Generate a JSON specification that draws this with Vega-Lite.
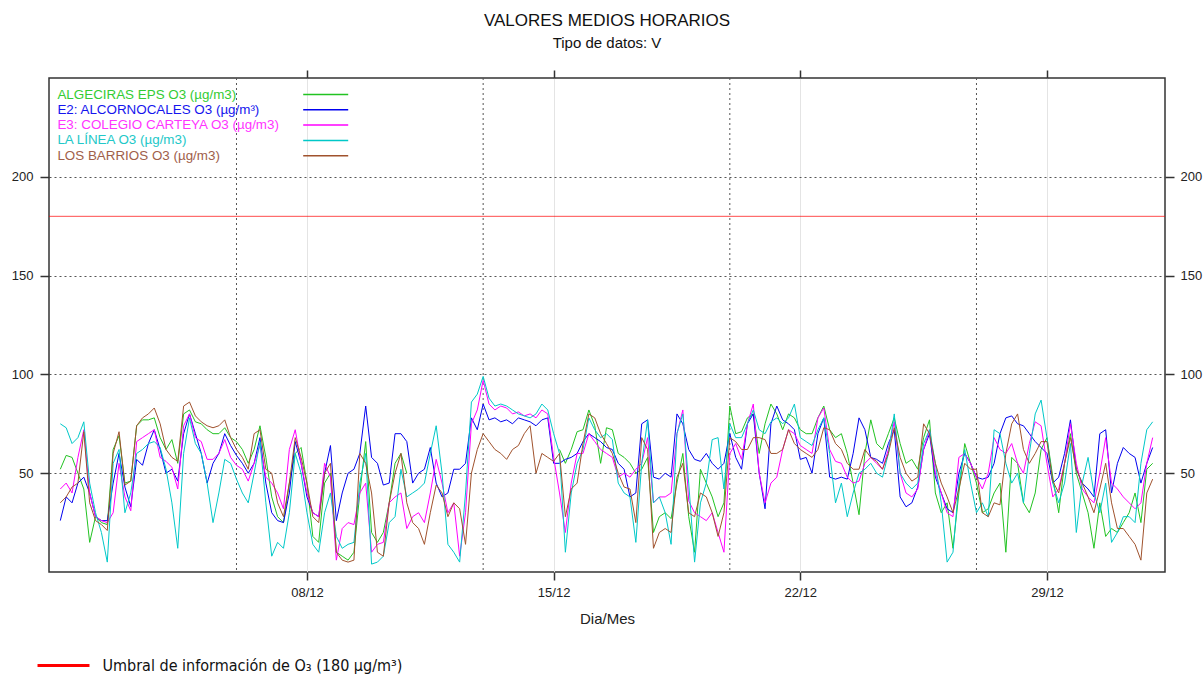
{
  "$schema": "https://vega.github.io/schema/vega-lite/v6.json",
  "width": 1116,
  "height": 494,
  "autosize": {"type": "none"},
  "padding": {"left": 49, "top": 78, "right": 39, "bottom": 107},
  "background": "white",
  "title": {
    "text": "VALORES MEDIOS HORARIOS",
    "subtitle": "Tipo de datos: V",
    "anchor": "middle",
    "font": "Liberation Sans",
    "fontSize": 17,
    "fontWeight": "normal",
    "color": "#111111",
    "subtitleFont": "Liberation Sans",
    "subtitleFontSize": 15,
    "subtitleColor": "#111111",
    "subtitlePadding": 6,
    "offset": 17
  },
  "config": {
    "font": "Liberation Sans",
    "view": {"stroke": "#333333", "strokeWidth": 1.5},
    "axis": {
      "labelFont": "Liberation Sans",
      "labelFontSize": 13,
      "labelColor": "#222222",
      "tickColor": "#333333",
      "tickWidth": 1.5,
      "domain": false,
      "titleFont": "Liberation Sans",
      "titleFontWeight": "normal",
      "titleFontSize": 15,
      "titleColor": "#222222"
    }
  },
  "resolve": {
    "scale": {"color": "independent"},
    "axis": {"x": "independent", "y": "independent"}
  },
  "layer": [
    {
      "data": {"values": [
        {"d": "2023-12-06T00:00"},
        {"d": "2023-12-13T00:00"},
        {"d": "2023-12-20T00:00"},
        {"d": "2023-12-27T00:00"}
      ]},
      "mark": {"type": "rule", "color": "#555555", "strokeDash": [2, 3], "strokeWidth": 1},
      "encoding": {
        "x": {
          "field": "d",
          "type": "temporal",
          "scale": {"type": "time", "domain": [
            {"year": 2023, "month": 11, "date": 30, "hours": 16, "minutes": 18},
            {"year": 2024, "month": 1, "date": 1, "hours": 8, "minutes": 24}
          ]},
          "axis": {
            "orient": "top",
            "values": [
              {"year": 2023, "month": 12, "date": 8},
              {"year": 2023, "month": 12, "date": 15},
              {"year": 2023, "month": 12, "date": 22},
              {"year": 2023, "month": 12, "date": 29}
            ],
            "labels": false,
            "grid": false,
            "ticks": true,
            "tickSize": 8,
            "title": null
          }
        }
      }
    },
    {
      "data": {"values": [{}]},
      "mark": {"type": "rule", "strokeWidth": 1, "opacity": 0.7},
      "encoding": {
        "y": {
          "datum": 180,
          "type": "quantitative",
          "scale": {"domain": [0, 250], "nice": false},
          "axis": {
            "orient": "right",
            "values": [50, 100, 150, 200],
            "grid": false,
            "tickSize": 9,
            "labelPadding": 6,
            "title": null
          }
        },
        "color": {
          "datum": "Umbral de información de O₃ (180 µg/m³)",
          "type": "nominal",
          "scale": {"range": ["#ff0000"]},
          "legend": {
            "orient": "none",
            "legendX": -9,
            "legendY": 579.5,
            "title": null,
            "padding": 0,
            "symbolType": "M-6,0H6",
            "symbolSize": 75,
            "symbolStrokeWidth": 3,
            "symbolOpacity": 1,
            "symbolOffset": 15.5,
            "labelOffset": 31,
            "labelFont": "Liberation Sans Narrow, DejaVu Sans Condensed, Liberation Sans",
            "labelFontSize": 16,
            "labelColor": "#111111",
            "labelLimit": 0
          }
        }
      }
    },
    {
      "data": {"values": [
        {"t":"2023-12-01T00:00","g":52,"b":26,"m":42,"c":75,"r":35},
        {"t":"2023-12-01T04:00","g":59,"b":38,"m":45,"c":73,"r":38},
        {"t":"2023-12-01T08:00","g":58,"b":35,"m":40,"c":65,"r":43},
        {"t":"2023-12-01T12:00","g":50,"b":45,"m":58,"c":68,"r":45},
        {"t":"2023-12-01T16:00","g":42,"b":48,"m":72,"c":76,"r":71},
        {"t":"2023-12-01T20:00","g":15,"b":40,"m":40,"c":45,"r":35},
        {"t":"2023-12-02T00:00","g":28,"b":28,"m":28,"c":30,"r":26},
        {"t":"2023-12-02T04:00","g":25,"b":26,"m":26,"c":20,"r":24},
        {"t":"2023-12-02T08:00","g":24,"b":26,"m":25,"c":5,"r":21},
        {"t":"2023-12-02T12:00","g":62,"b":45,"m":30,"c":55,"r":60},
        {"t":"2023-12-02T16:00","g":69,"b":60,"m":55,"c":62,"r":71},
        {"t":"2023-12-02T20:00","g":45,"b":43,"m":38,"c":30,"r":44},
        {"t":"2023-12-03T00:00","g":46,"b":33,"m":31,"c":40,"r":46},
        {"t":"2023-12-03T04:00","g":74,"b":57,"m":66,"c":60,"r":74},
        {"t":"2023-12-03T08:00","g":77,"b":54,"m":68,"c":62,"r":78},
        {"t":"2023-12-03T12:00","g":77,"b":65,"m":70,"c":65,"r":80},
        {"t":"2023-12-03T16:00","g":78,"b":72,"m":72,"c":66,"r":83},
        {"t":"2023-12-03T20:00","g":68,"b":62,"m":58,"c":63,"r":75},
        {"t":"2023-12-04T00:00","g":62,"b":50,"m":56,"c":52,"r":62},
        {"t":"2023-12-04T04:00","g":67,"b":52,"m":53,"c":35,"r":58},
        {"t":"2023-12-04T08:00","g":55,"b":46,"m":42,"c":12,"r":56},
        {"t":"2023-12-04T12:00","g":80,"b":70,"m":74,"c":60,"r":84},
        {"t":"2023-12-04T16:00","g":82,"b":80,"m":80,"c":78,"r":86},
        {"t":"2023-12-04T20:00","g":76,"b":70,"m":68,"c":65,"r":79},
        {"t":"2023-12-05T00:00","g":75,"b":60,"m":66,"c":60,"r":76},
        {"t":"2023-12-05T04:00","g":72,"b":45,"m":57,"c":45,"r":74},
        {"t":"2023-12-05T08:00","g":70,"b":55,"m":57,"c":25,"r":73},
        {"t":"2023-12-05T12:00","g":70,"b":60,"m":60,"c":40,"r":74},
        {"t":"2023-12-05T16:00","g":73,"b":70,"m":67,"c":57,"r":77},
        {"t":"2023-12-05T20:00","g":68,"b":64,"m":58,"c":55,"r":68},
        {"t":"2023-12-06T00:00","g":66,"b":59,"m":54,"c":47,"r":62},
        {"t":"2023-12-06T04:00","g":62,"b":55,"m":52,"c":40,"r":58},
        {"t":"2023-12-06T08:00","g":55,"b":50,"m":46,"c":35,"r":52},
        {"t":"2023-12-06T12:00","g":62,"b":55,"m":55,"c":50,"r":70},
        {"t":"2023-12-06T16:00","g":74,"b":68,"m":64,"c":66,"r":72},
        {"t":"2023-12-06T20:00","g":58,"b":45,"m":48,"c":35,"r":52},
        {"t":"2023-12-07T00:00","g":38,"b":30,"m":45,"c":8,"r":50},
        {"t":"2023-12-07T04:00","g":28,"b":26,"m":40,"c":15,"r":35},
        {"t":"2023-12-07T08:00","g":25,"b":25,"m":32,"c":12,"r":28},
        {"t":"2023-12-07T12:00","g":45,"b":40,"m":62,"c":30,"r":45},
        {"t":"2023-12-07T16:00","g":60,"b":66,"m":72,"c":60,"r":68},
        {"t":"2023-12-07T20:00","g":63,"b":55,"m":55,"c":50,"r":58},
        {"t":"2023-12-08T00:00","g":45,"b":38,"m":40,"c":30,"r":45},
        {"t":"2023-12-08T04:00","g":18,"b":30,"m":30,"c":14,"r":28},
        {"t":"2023-12-08T08:00","g":15,"b":28,"m":28,"c":10,"r":25},
        {"t":"2023-12-08T12:00","g":45,"b":50,"m":55,"c":30,"r":50},
        {"t":"2023-12-08T16:00","g":50,"b":64,"m":48,"c":40,"r":55},
        {"t":"2023-12-08T20:00","g":10,"b":26,"m":6,"c":18,"r":10},
        {"t":"2023-12-09T00:00","g":8,"b":40,"m":22,"c":12,"r":6},
        {"t":"2023-12-09T04:00","g":6,"b":50,"m":25,"c":14,"r":5},
        {"t":"2023-12-09T08:00","g":10,"b":52,"m":24,"c":15,"r":6},
        {"t":"2023-12-09T12:00","g":40,"b":60,"m":40,"c":45,"r":60},
        {"t":"2023-12-09T16:00","g":66,"b":84,"m":45,"c":60,"r":55},
        {"t":"2023-12-09T20:00","g":20,"b":58,"m":10,"c":4,"r":40},
        {"t":"2023-12-10T00:00","g":15,"b":55,"m":14,"c":5,"r":10},
        {"t":"2023-12-10T04:00","g":20,"b":44,"m":15,"c":8,"r":8},
        {"t":"2023-12-10T08:00","g":35,"b":45,"m":35,"c":25,"r":35},
        {"t":"2023-12-10T12:00","g":55,"b":70,"m":38,"c":28,"r":50},
        {"t":"2023-12-10T16:00","g":60,"b":70,"m":40,"c":52,"r":60},
        {"t":"2023-12-10T20:00","g":50,"b":66,"m":22,"c":38,"r":35},
        {"t":"2023-12-11T00:00","g":null,"b":45,"m":28,"c":40,"r":25},
        {"t":"2023-12-11T04:00","g":null,"b":50,"m":30,"c":42,"r":22},
        {"t":"2023-12-11T08:00","g":null,"b":52,"m":25,"c":45,"r":14},
        {"t":"2023-12-11T12:00","g":null,"b":63,"m":40,"c":60,"r":30},
        {"t":"2023-12-11T16:00","g":null,"b":45,"m":57,"c":74,"r":44},
        {"t":"2023-12-11T20:00","g":null,"b":38,"m":45,"c":50,"r":40},
        {"t":"2023-12-12T00:00","g":null,"b":40,"m":30,"c":14,"r":28},
        {"t":"2023-12-12T04:00","g":null,"b":52,"m":35,"c":10,"r":35},
        {"t":"2023-12-12T08:00","g":null,"b":52,"m":8,"c":5,"r":32},
        {"t":"2023-12-12T12:00","g":null,"b":55,"m":30,"c":40,"r":14},
        {"t":"2023-12-12T16:00","g":null,"b":78,"m":75,"c":86,"r":50},
        {"t":"2023-12-12T20:00","g":null,"b":72,"m":82,"c":90,"r":62},
        {"t":"2023-12-13T00:00","g":null,"b":85,"m":97,"c":99,"r":70},
        {"t":"2023-12-13T04:00","g":null,"b":77,"m":85,"c":88,"r":66},
        {"t":"2023-12-13T08:00","g":null,"b":78,"m":82,"c":84,"r":62},
        {"t":"2023-12-13T12:00","g":null,"b":76,"m":84,"c":85,"r":60},
        {"t":"2023-12-13T16:00","g":null,"b":77,"m":83,"c":84,"r":57},
        {"t":"2023-12-13T20:00","g":null,"b":75,"m":80,"c":82,"r":62},
        {"t":"2023-12-14T00:00","g":null,"b":78,"m":81,"c":80,"r":64},
        {"t":"2023-12-14T04:00","g":null,"b":77,"m":79,"c":79,"r":70},
        {"t":"2023-12-14T08:00","g":null,"b":76,"m":80,"c":78,"r":74},
        {"t":"2023-12-14T12:00","g":null,"b":74,"m":78,"c":80,"r":50},
        {"t":"2023-12-14T16:00","g":null,"b":77,"m":82,"c":85,"r":60},
        {"t":"2023-12-14T20:00","g":null,"b":78,"m":80,"c":82,"r":58},
        {"t":"2023-12-15T00:00","g":null,"b":55,"m":58,"c":70,"r":56},
        {"t":"2023-12-15T04:00","g":62,"b":55,"m":40,"c":60,"r":60},
        {"t":"2023-12-15T08:00","g":55,"b":57,"m":20,"c":10,"r":28},
        {"t":"2023-12-15T12:00","g":62,"b":58,"m":45,"c":40,"r":42},
        {"t":"2023-12-15T16:00","g":71,"b":60,"m":60,"c":55,"r":45},
        {"t":"2023-12-15T20:00","g":72,"b":66,"m":60,"c":62,"r":65},
        {"t":"2023-12-16T00:00","g":82,"b":70,"m":70,"c":78,"r":80},
        {"t":"2023-12-16T04:00","g":74,"b":68,"m":66,"c":72,"r":78},
        {"t":"2023-12-16T08:00","g":55,"b":66,"m":62,"c":68,"r":70},
        {"t":"2023-12-16T12:00","g":73,"b":63,"m":60,"c":70,"r":65},
        {"t":"2023-12-16T16:00","g":72,"b":62,"m":58,"c":67,"r":60},
        {"t":"2023-12-16T20:00","g":60,"b":55,"m":48,"c":45,"r":50},
        {"t":"2023-12-17T00:00","g":58,"b":52,"m":50,"c":40,"r":43},
        {"t":"2023-12-17T04:00","g":55,"b":38,"m":48,"c":38,"r":42},
        {"t":"2023-12-17T08:00","g":50,"b":40,"m":52,"c":15,"r":25},
        {"t":"2023-12-17T12:00","g":52,"b":75,"m":55,"c":55,"r":68},
        {"t":"2023-12-17T16:00","g":58,"b":77,"m":68,"c":77,"r":62},
        {"t":"2023-12-17T20:00","g":20,"b":48,"m":35,"c":35,"r":12},
        {"t":"2023-12-18T00:00","g":28,"b":47,"m":38,"c":38,"r":20},
        {"t":"2023-12-18T04:00","g":30,"b":50,"m":38,"c":30,"r":22},
        {"t":"2023-12-18T08:00","g":27,"b":48,"m":40,"c":14,"r":20},
        {"t":"2023-12-18T12:00","g":45,"b":80,"m":70,"c":70,"r":48},
        {"t":"2023-12-18T16:00","g":60,"b":75,"m":82,"c":80,"r":55},
        {"t":"2023-12-18T20:00","g":28,"b":62,"m":36,"c":45,"r":30},
        {"t":"2023-12-19T00:00","g":10,"b":57,"m":30,"c":5,"r":28},
        {"t":"2023-12-19T04:00","g":52,"b":56,"m":28,"c":35,"r":40},
        {"t":"2023-12-19T08:00","g":45,"b":60,"m":26,"c":45,"r":38},
        {"t":"2023-12-19T12:00","g":38,"b":55,"m":30,"c":67,"r":30},
        {"t":"2023-12-19T16:00","g":28,"b":52,"m":20,"c":68,"r":18},
        {"t":"2023-12-19T20:00","g":35,"b":55,"m":10,"c":42,"r":30},
        {"t":"2023-12-20T00:00","g":84,"b":70,"m":60,"c":75,"r":68},
        {"t":"2023-12-20T04:00","g":70,"b":58,"m":65,"c":68,"r":66},
        {"t":"2023-12-20T08:00","g":71,"b":52,"m":57,"c":68,"r":62},
        {"t":"2023-12-20T12:00","g":78,"b":75,"m":75,"c":75,"r":62},
        {"t":"2023-12-20T16:00","g":80,"b":80,"m":85,"c":82,"r":68},
        {"t":"2023-12-20T20:00","g":60,"b":50,"m":50,"c":72,"r":68},
        {"t":"2023-12-21T00:00","g":75,"b":32,"m":35,"c":70,"r":67},
        {"t":"2023-12-21T04:00","g":85,"b":75,"m":45,"c":76,"r":60},
        {"t":"2023-12-21T08:00","g":80,"b":84,"m":48,"c":78,"r":60},
        {"t":"2023-12-21T12:00","g":72,"b":77,"m":62,"c":75,"r":62},
        {"t":"2023-12-21T16:00","g":80,"b":75,"m":72,"c":78,"r":72},
        {"t":"2023-12-21T20:00","g":78,"b":72,"m":70,"c":85,"r":65},
        {"t":"2023-12-22T00:00","g":72,"b":57,"m":64,"c":68,"r":62},
        {"t":"2023-12-22T04:00","g":70,"b":58,"m":62,"c":66,"r":60},
        {"t":"2023-12-22T08:00","g":70,"b":50,"m":60,"c":64,"r":58},
        {"t":"2023-12-22T12:00","g":78,"b":70,"m":78,"c":72,"r":62},
        {"t":"2023-12-22T16:00","g":84,"b":78,"m":83,"c":78,"r":73},
        {"t":"2023-12-22T20:00","g":72,"b":48,"m":62,"c":60,"r":72},
        {"t":"2023-12-23T00:00","g":68,"b":47,"m":56,"c":35,"r":65},
        {"t":"2023-12-23T04:00","g":70,"b":48,"m":55,"c":45,"r":62},
        {"t":"2023-12-23T08:00","g":60,"b":47,"m":48,"c":28,"r":55},
        {"t":"2023-12-23T12:00","g":45,"b":60,"m":45,"c":40,"r":52},
        {"t":"2023-12-23T16:00","g":29,"b":78,"m":46,"c":50,"r":52},
        {"t":"2023-12-23T20:00","g":60,"b":72,"m":55,"c":52,"r":62},
        {"t":"2023-12-24T00:00","g":77,"b":58,"m":58,"c":55,"r":58},
        {"t":"2023-12-24T04:00","g":65,"b":57,"m":55,"c":50,"r":56},
        {"t":"2023-12-24T08:00","g":62,"b":55,"m":52,"c":48,"r":52},
        {"t":"2023-12-24T12:00","g":70,"b":65,"m":62,"c":60,"r":60},
        {"t":"2023-12-24T16:00","g":78,"b":72,"m":76,"c":80,"r":73},
        {"t":"2023-12-24T20:00","g":65,"b":38,"m":50,"c":50,"r":58},
        {"t":"2023-12-25T00:00","g":55,"b":33,"m":40,"c":45,"r":50},
        {"t":"2023-12-25T04:00","g":57,"b":35,"m":38,"c":42,"r":46},
        {"t":"2023-12-25T08:00","g":52,"b":43,"m":42,"c":45,"r":48},
        {"t":"2023-12-25T12:00","g":68,"b":62,"m":62,"c":65,"r":75},
        {"t":"2023-12-25T16:00","g":77,"b":70,"m":72,"c":72,"r":70},
        {"t":"2023-12-25T20:00","g":40,"b":48,"m":50,"c":55,"r":55},
        {"t":"2023-12-26T00:00","g":30,"b":40,"m":40,"c":35,"r":45},
        {"t":"2023-12-26T04:00","g":35,"b":32,"m":30,"c":5,"r":38},
        {"t":"2023-12-26T08:00","g":12,"b":30,"m":28,"c":10,"r":30},
        {"t":"2023-12-26T12:00","g":40,"b":50,"m":58,"c":45,"r":42},
        {"t":"2023-12-26T16:00","g":65,"b":60,"m":60,"c":62,"r":55},
        {"t":"2023-12-26T20:00","g":55,"b":55,"m":55,"c":45,"r":52},
        {"t":"2023-12-27T00:00","g":45,"b":48,"m":48,"c":30,"r":52},
        {"t":"2023-12-27T04:00","g":30,"b":47,"m":42,"c":35,"r":30},
        {"t":"2023-12-27T08:00","g":32,"b":48,"m":50,"c":28,"r":28},
        {"t":"2023-12-27T12:00","g":40,"b":55,"m":68,"c":72,"r":35},
        {"t":"2023-12-27T16:00","g":45,"b":70,"m":62,"c":70,"r":34},
        {"t":"2023-12-27T20:00","g":10,"b":78,"m":60,"c":55,"r":60},
        {"t":"2023-12-28T00:00","g":58,"b":79,"m":65,"c":45,"r":75},
        {"t":"2023-12-28T04:00","g":55,"b":75,"m":55,"c":50,"r":80},
        {"t":"2023-12-28T08:00","g":35,"b":74,"m":50,"c":35,"r":62},
        {"t":"2023-12-28T12:00","g":30,"b":70,"m":65,"c":60,"r":55},
        {"t":"2023-12-28T16:00","g":40,"b":66,"m":76,"c":80,"r":60},
        {"t":"2023-12-28T20:00","g":62,"b":63,"m":74,"c":87,"r":66},
        {"t":"2023-12-29T00:00","g":68,"b":60,"m":55,"c":68,"r":66},
        {"t":"2023-12-29T04:00","g":48,"b":45,"m":38,"c":45,"r":46},
        {"t":"2023-12-29T08:00","g":30,"b":48,"m":42,"c":35,"r":40},
        {"t":"2023-12-29T12:00","g":55,"b":60,"m":55,"c":45,"r":55},
        {"t":"2023-12-29T16:00","g":70,"b":77,"m":75,"c":65,"r":68},
        {"t":"2023-12-29T20:00","g":50,"b":52,"m":55,"c":20,"r":52},
        {"t":"2023-12-30T00:00","g":40,"b":45,"m":42,"c":45,"r":45},
        {"t":"2023-12-30T04:00","g":30,"b":42,"m":38,"c":58,"r":38},
        {"t":"2023-12-30T08:00","g":12,"b":38,"m":35,"c":40,"r":30},
        {"t":"2023-12-30T12:00","g":35,"b":70,"m":50,"c":30,"r":42},
        {"t":"2023-12-30T16:00","g":18,"b":72,"m":68,"c":45,"r":55},
        {"t":"2023-12-30T20:00","g":22,"b":40,"m":45,"c":15,"r":35},
        {"t":"2023-12-31T00:00","g":20,"b":55,"m":42,"c":20,"r":22},
        {"t":"2023-12-31T04:00","g":25,"b":63,"m":38,"c":28,"r":22},
        {"t":"2023-12-31T08:00","g":30,"b":60,"m":35,"c":28,"r":18},
        {"t":"2023-12-31T12:00","g":40,"b":58,"m":32,"c":25,"r":14},
        {"t":"2023-12-31T16:00","g":25,"b":45,"m":35,"c":55,"r":6},
        {"t":"2023-12-31T20:00","g":52,"b":55,"m":55,"c":72,"r":40},
        {"t":"2024-01-01T00:00","g":55,"b":63,"m":68,"c":76,"r":47}
      ]},
      "transform": [{"fold": ["g", "b", "m", "c", "r"], "as": ["s", "v"]}],
      "mark": {"type": "line", "strokeWidth": 1, "invalid": "break-paths-show-domains"},
      "encoding": {
        "x": {
          "field": "t",
          "type": "temporal",
          "scale": {"type": "time", "domain": [
            {"year": 2023, "month": 11, "date": 30, "hours": 16, "minutes": 18},
            {"year": 2024, "month": 1, "date": 1, "hours": 8, "minutes": 24}
          ]},
          "axis": {
            "orient": "bottom",
            "values": [
              {"year": 2023, "month": 12, "date": 8},
              {"year": 2023, "month": 12, "date": 15},
              {"year": 2023, "month": 12, "date": 22},
              {"year": 2023, "month": 12, "date": 29}
            ],
            "format": "%d/%m",
            "grid": true,
            "gridColor": "#e4e4e4",
            "gridWidth": 1,
            "tickSize": 8,
            "labelPadding": 6,
            "title": "Dia/Mes",
            "titlePadding": 12
          }
        },
        "y": {
          "field": "v",
          "type": "quantitative",
          "scale": {"domain": [0, 250], "nice": false},
          "axis": {
            "orient": "left",
            "values": [50, 100, 150, 200],
            "grid": true,
            "gridColor": "#555555",
            "gridDash": [2, 3],
            "gridWidth": 1,
            "tickSize": 9,
            "labelPadding": 7,
            "title": null
          }
        },
        "color": {
          "field": "s",
          "type": "nominal",
          "scale": {
            "domain": ["g", "b", "m", "c", "r"],
            "range": ["#22c322", "#0000f0", "#ff00ff", "#00c8c8", "#a0522d"]
          },
          "legend": {
            "orient": "none",
            "legendX": -5,
            "legendY": 9.8,
            "title": null,
            "padding": 0,
            "symbolType": "M-6,0H6",
            "symbolSize": 56.25,
            "symbolStrokeWidth": 1.5,
            "symbolOffset": 275,
            "labelOffset": -275,
            "rowPadding": 0.3,
            "labelFont": "Liberation Sans",
            "labelFontSize": 13.4,
            "labelLimit": 0,
            "labelColor": {"expr": "datum.value == 'g' ? '#33cc33' : datum.value == 'b' ? '#1515ee' : datum.value == 'm' ? '#ff33ff' : datum.value == 'c' ? '#22c8c8' : '#a0604a'"},
            "labelExpr": "datum.value == 'g' ? 'ALGECIRAS EPS O3 (µg/m3)' : datum.value == 'b' ? 'E2: ALCORNOCALES O3 (µg/m³)' : datum.value == 'm' ? 'E3: COLEGIO CARTEYA O3 (µg/m3)' : datum.value == 'c' ? 'LA LÍNEA O3 (µg/m3)' : 'LOS BARRIOS O3 (µg/m3)'"
          }
        }
      }
    }
  ]
}
